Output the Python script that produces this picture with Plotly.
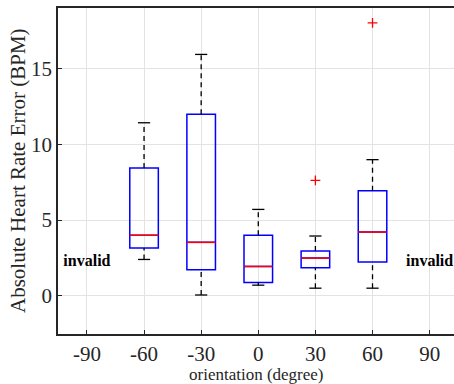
import plotly.graph_objects as go

orientations = [-60, -30, 0, 30, 60]
lower_whisker = [2.4, 0.05, 0.7, 0.5, 0.5]
q1 = [3.15, 1.72, 0.88, 1.85, 2.23]
median = [4.0, 3.53, 1.94, 2.49, 4.21]
q3 = [8.45, 12.0, 4.0, 2.96, 6.95]
upper_whisker = [11.44, 15.96, 5.71, 3.95, 9.0]
outlier_x = [30, 60]
outlier_y = [7.63, 18.04]
invalid_x = [-90, 90]
invalid_y = [2.2, 2.2]
xticks = [-90, -60, -30, 0, 30, 60, 90]
yticks = [0, 5, 10, 15]

half_box = 7.5
half_cap = 3.2
FONT = "'Liberation Serif', 'Times New Roman', Times, serif"

fig = go.Figure()

fig.add_trace(go.Box(
    x=orientations, q1=q1, median=median, q3=q3,
    lowerfence=q1, upperfence=q3,
    width=2 * half_box, whiskerwidth=0,
    line=dict(color="#0000ff", width=1.5),
    fillcolor="rgba(0,0,0,0)", boxpoints=False, showlegend=False,
    hoverinfo="skip",
))

wx, wy, cx, cy, mx, my = [], [], [], [], [], []
for x, lo, a, m, b, hi in zip(orientations, lower_whisker, q1, median, q3, upper_whisker):
    wx += [x, x, None, x, x, None]
    wy += [lo, a, None, b, hi, None]
    cx += [x - half_cap, x + half_cap, None, x - half_cap, x + half_cap, None]
    cy += [lo, lo, None, hi, hi, None]
    mx += [x - half_box, x + half_box, None]
    my += [m, m, None]

fig.add_trace(go.Scatter(x=wx, y=wy, mode="lines",
                         line=dict(color="black", width=1.3, dash="5px,4px"),
                         showlegend=False, hoverinfo="skip"))
fig.add_trace(go.Scatter(x=cx, y=cy, mode="lines",
                         line=dict(color="black", width=1.3),
                         showlegend=False, hoverinfo="skip"))
fig.add_trace(go.Scatter(x=mx, y=my, mode="lines",
                         line=dict(color="#ff0000", width=1.5),
                         showlegend=False, hoverinfo="skip"))
fig.add_trace(go.Scatter(x=outlier_x, y=outlier_y, mode="markers",
                         marker=dict(symbol="cross-thin", size=7,
                                     line=dict(color="#ff0000", width=1.3)),
                         showlegend=False, hoverinfo="skip"))
fig.add_trace(go.Scatter(x=invalid_x, y=invalid_y, mode="text",
                         text=["invalid"] * len(invalid_x),
                         textfont=dict(family=FONT, size=16, color="black", weight="bold"),
                         cliponaxis=False,
                         showlegend=False, hoverinfo="skip"))

axis_common = dict(
    showgrid=True, gridcolor="#e3e3e3", gridwidth=1,
    showline=True, linecolor="#262626", linewidth=1.5,
    ticks="inside", ticklen=4, tickcolor="#262626",
    tickfont=dict(family=FONT, size=21, color="#262626"),
    zeroline=False, automargin=False,
)

fig.update_layout(
    width=454, height=384,
    margin=dict(l=58, r=0, t=8, b=50),
    plot_bgcolor="white", paper_bgcolor="white",
    font=dict(family=FONT),
    xaxis=dict(range=[-105.2, 102.8], tickvals=xticks,
               ticktext=[str(t) for t in xticks], mirror=True,
               **axis_common),
    yaxis=dict(range=[-2.53, 19.03], tickvals=yticks, mirror=False,
               **axis_common),
    annotations=[
        dict(text="orientation (degree)", xref="paper", yref="paper",
             x=0.5, y=0, yshift=-40, xanchor="center", yanchor="middle",
             showarrow=False,
             font=dict(family=FONT, size=17, color="#262626")),
        dict(text="Absolute Heart Rate Error (BPM)", xref="paper", yref="paper",
             x=0, y=0.5, xshift=-40, xanchor="center", yanchor="middle",
             textangle=-90, showarrow=False,
             font=dict(family=FONT, size=21, color="#262626")),
    ],
)

fig.write_html("out.html", config={"displayModeBar": False},
               post_script="document.body.style.margin='0';document.body.style.padding='0';")
